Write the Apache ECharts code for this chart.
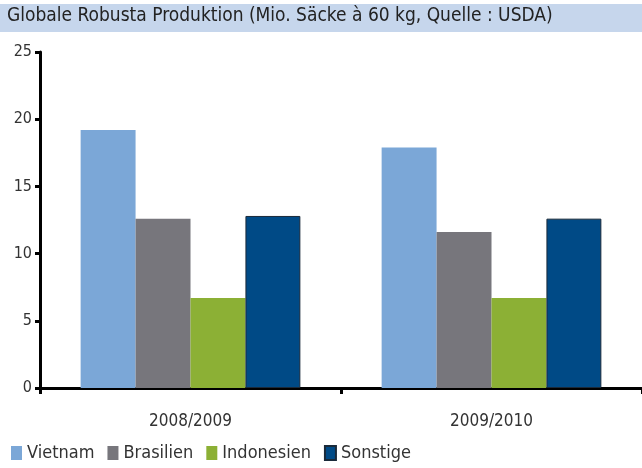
<!DOCTYPE html>
<html>
<head>
<meta charset="utf-8">
<script src="https://cdn.jsdelivr.net/npm/echarts@6/dist/echarts.min.js"></script>
<style>
  html, body { margin: 0; padding: 0; background: #fff; }
  #chart { width: 642px; height: 468px; }
</style>
</head>
<body>
<div id="chart"></div>
<script>
// Jahre (Kategorien)
var years = ['2008/2009', '2009/2010']
// Mio. Säcke à 60 kg
var vietnam = [19.2, 17.9]
var brasilien = [12.6, 11.6]
var indonesien = [6.7, 6.7]
var sonstige = [12.8, 12.6]
var yTicks = [0, 5, 10, 15, 20, 25]

var font = '"Liberation Sans Narrow", "DejaVu Sans Condensed", sans-serif'
var myChart = echarts.init(document.getElementById('chart'))

function bar (name, data, color, border) {
  return {
    name: name,
    type: 'bar',
    data: data,
    barGap: 0,
    barCategoryGap: '27%',
    itemStyle: {
      color: color,
      borderColor: border || color,
      borderWidth: border ? 1 : 0
    }
  }
}

myChart.setOption({
  animation: false,
  graphic: [{
    type: 'rect',
    left: 0,
    top: 4,
    shape: { width: 642, height: 28 },
    style: { fill: '#c6d6ec' }
  }, {
    type: 'text',
    left: 7,
    top: 7,
    style: {
      text: 'Globale Robusta Produktion (Mio. Säcke à 60 kg, Quelle : USDA)',
      font: '19px ' + font,
      fill: '#222'
    }
  }],
  grid: { left: 40, right: 0, top: 52, bottom: 80 },
  legend: {
    left: 6,
    bottom: 1,
    itemWidth: 11,
    itemHeight: 14,
    itemGap: 13,
    icon: 'rect',
    textStyle: { fontFamily: font, fontSize: 18, color: '#333', padding: [0, 0, 0, 0] },
    data: ['Vietnam', 'Brasilien', 'Indonesien', 'Sonstige']
  },
  xAxis: {
    type: 'category',
    data: years,
    axisLine: { lineStyle: { color: '#000', width: 3 } },
    axisTick: { show: true, length: 6, lineStyle: { color: '#000', width: 3 } },
    axisLabel: { fontFamily: font, fontSize: 17, color: '#333', margin: 25 }
  },
  yAxis: {
    type: 'value',
    min: 0,
    max: 25,
    interval: 5,
    splitLine: { show: false },
    axisLine: { show: true, lineStyle: { color: '#000', width: 3 } },
    axisTick: { show: true, length: 5, lineStyle: { color: '#000', width: 3 } },
    axisLabel: {
      fontFamily: font,
      fontSize: 16,
      color: '#333',
      margin: 8,
      formatter: function (v) { return yTicks.indexOf(v) >= 0 ? String(v) : '' }
    }
  },
  series: [
    bar('Vietnam', vietnam, '#7ba7d7'),
    bar('Brasilien', brasilien, '#77767c'),
    bar('Indonesien', indonesien, '#8cb035'),
    bar('Sonstige', sonstige, '#004a86', '#1a2a3a')
  ]
})
</script>
</body>
</html>
